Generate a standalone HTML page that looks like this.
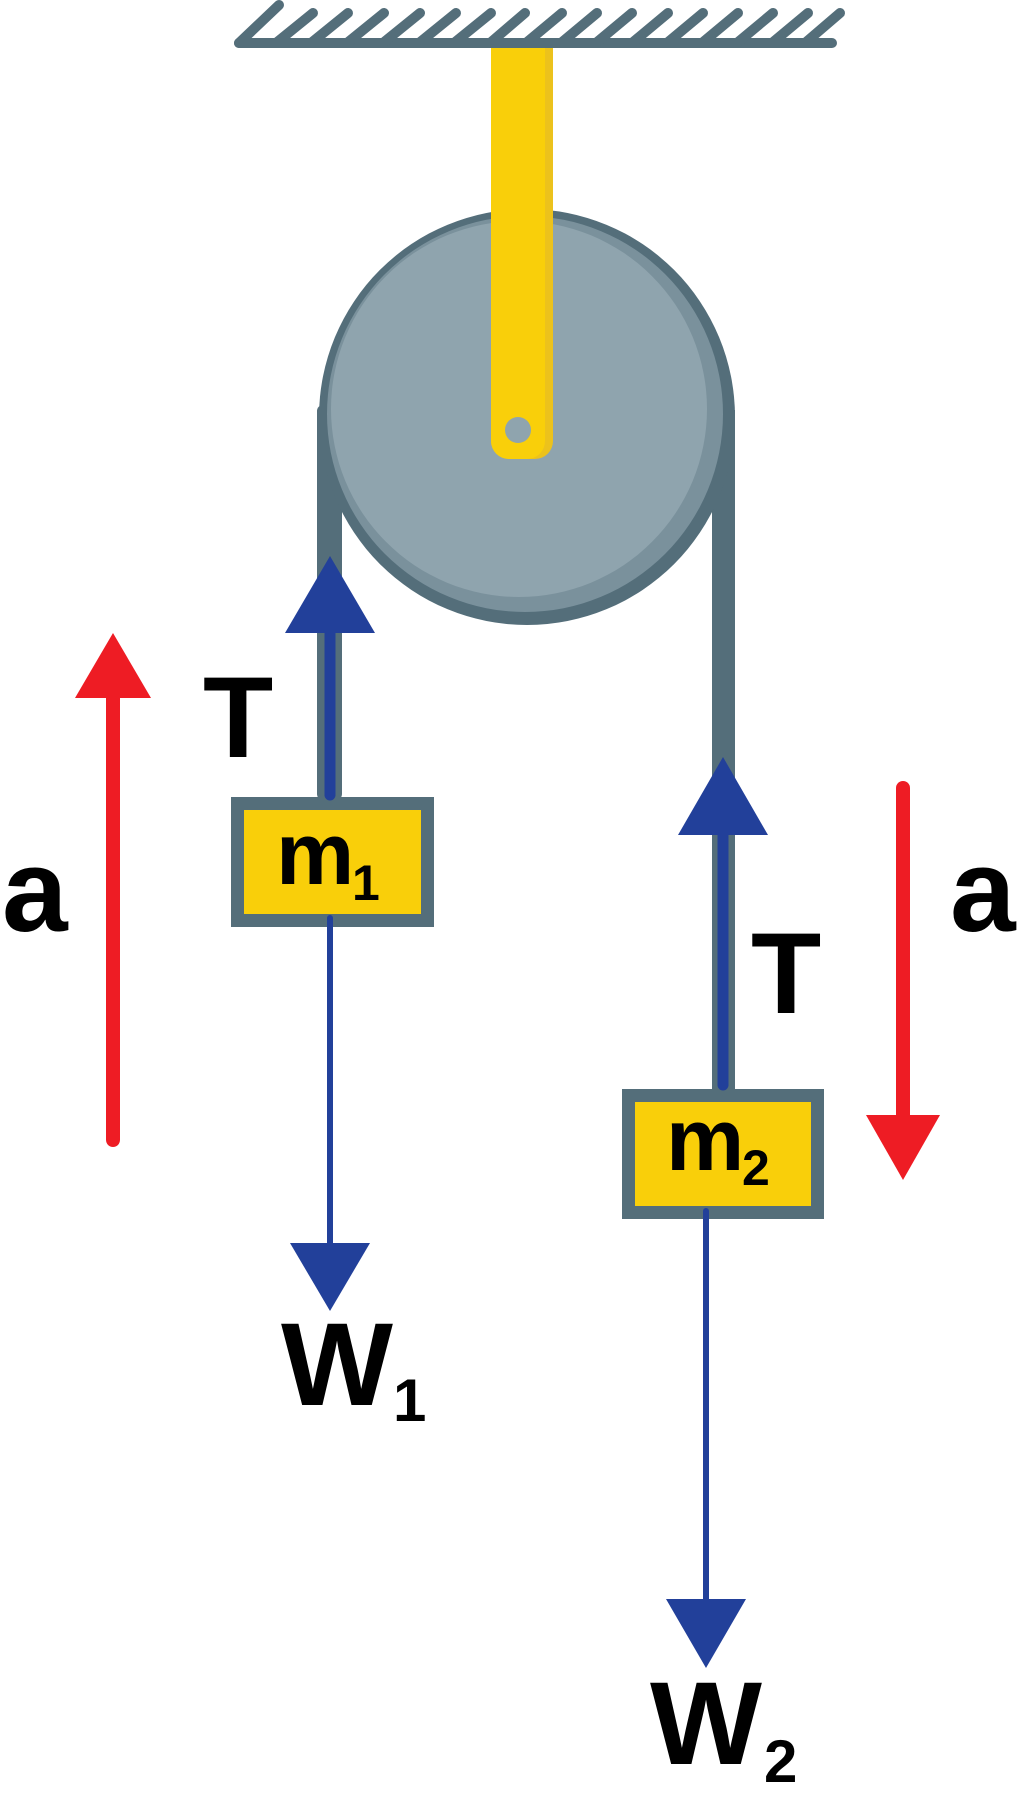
<!DOCTYPE html>
<html><head><meta charset="utf-8"><style>html,body{margin:0;padding:0;background:#fff}svg{display:block}</style></head>
<body>
<svg width="1024" height="1808" viewBox="0 0 1024 1808" xmlns="http://www.w3.org/2000/svg" font-family="Liberation Sans, sans-serif" font-weight="bold">
<!-- ceiling -->
<g stroke="#546e7a" stroke-width="10" stroke-linecap="round">
<line x1="239" y1="43" x2="832" y2="43"/>
<line x1="239" y1="43" x2="279" y2="5"/>
<line x1="276" y1="43" x2="313" y2="13"/>
<line x1="311" y1="43" x2="348" y2="13"/>
<line x1="347" y1="43" x2="384" y2="13"/>
<line x1="383" y1="43" x2="420" y2="13"/>
<line x1="419" y1="43" x2="456" y2="13"/>
<line x1="454" y1="43" x2="491" y2="13"/>
<line x1="490" y1="43" x2="525" y2="13"/>
<line x1="526" y1="43" x2="562" y2="13"/>
<line x1="561" y1="43" x2="597" y2="13"/>
<line x1="596" y1="43" x2="632" y2="13"/>
<line x1="632" y1="43" x2="668" y2="13"/>
<line x1="667" y1="43" x2="703" y2="13"/>
<line x1="702" y1="43" x2="738" y2="13"/>
<line x1="737" y1="43" x2="773" y2="13"/>
<line x1="772" y1="43" x2="808" y2="13"/>
<line x1="805" y1="43" x2="840" y2="13"/>
</g>
<!-- ropes -->
<rect x="317" y="405" width="25" height="395" rx="6" fill="#546e7a"/>
<rect x="712" y="410" width="23" height="680" fill="#546e7a"/>
<!-- pulley -->
<circle cx="527" cy="417" r="208" fill="#546e7a"/>
<circle cx="525" cy="414" r="198" fill="#7a919c"/>
<circle cx="519" cy="409" r="188" fill="#8fa4ae"/>
<!-- bar -->
<path d="M491 48 H553 V441 a18 18 0 0 1 -18 18 H509 a18 18 0 0 1 -18 -18 Z" fill="#ecc21c"/>
<path d="M491 48 H545 V441 a18 18 0 0 1 -18 18 H509 a18 18 0 0 1 -18 -18 Z" fill="#f9cf0a"/>
<circle cx="518" cy="430" r="13" fill="#8fa4ae"/>
<!-- boxes -->
<rect x="231" y="797" width="203" height="130" fill="#546e7a"/>
<rect x="244" y="810" width="177" height="104" fill="#f9cf0a"/>
<rect x="622" y="1089" width="202" height="130" fill="#546e7a"/>
<rect x="635" y="1102" width="176" height="104" fill="#f9cf0a"/>
<!-- blue arrows -->
<g stroke="#22409a" stroke-linecap="round">
<line x1="330" y1="630" x2="330" y2="795" stroke-width="11"/>
<line x1="330" y1="918" x2="330" y2="1245" stroke-width="6"/>
<line x1="723" y1="830" x2="723" y2="1085" stroke-width="11"/>
<line x1="706" y1="1211" x2="706" y2="1600" stroke-width="6"/>
</g>
<g fill="#22409a">
<polygon points="330,556 375,633 285,633"/>
<polygon points="290,1243 370,1243 330,1311"/>
<polygon points="723,757 768,835 678,835"/>
<polygon points="666,1599 746,1599 706,1668"/>
</g>
<!-- red arrows -->
<g stroke="#ee1c24" stroke-width="14" stroke-linecap="round">
<line x1="113" y1="690" x2="113" y2="1140"/>
<line x1="903" y1="788" x2="903" y2="1120"/>
</g>
<g fill="#ee1c24">
<polygon points="113,633 151,698 75,698"/>
<polygon points="866,1115 940,1115 903,1180"/>
</g>
<!-- labels -->
<g fill="#000">
<text x="203" y="757" font-size="115">T</text>
<text x="751" y="1013" font-size="115">T</text>
<text x="2" y="931" font-size="118">a</text>
<text x="950" y="931" font-size="118">a</text>
<text x="276" y="884" font-size="88">m</text>
<text x="352" y="900" font-size="50">1</text>
<text x="666" y="1170" font-size="88">m</text>
<text x="742" y="1185" font-size="50">2</text>
<text x="281" y="1405" font-size="118" textLength="112" lengthAdjust="spacingAndGlyphs">W</text>
<text x="393" y="1421" font-size="60">1</text>
<text x="650" y="1764" font-size="118" textLength="112" lengthAdjust="spacingAndGlyphs">W</text>
<text x="764" y="1782" font-size="60">2</text>
</g>
</svg>
</body></html>
